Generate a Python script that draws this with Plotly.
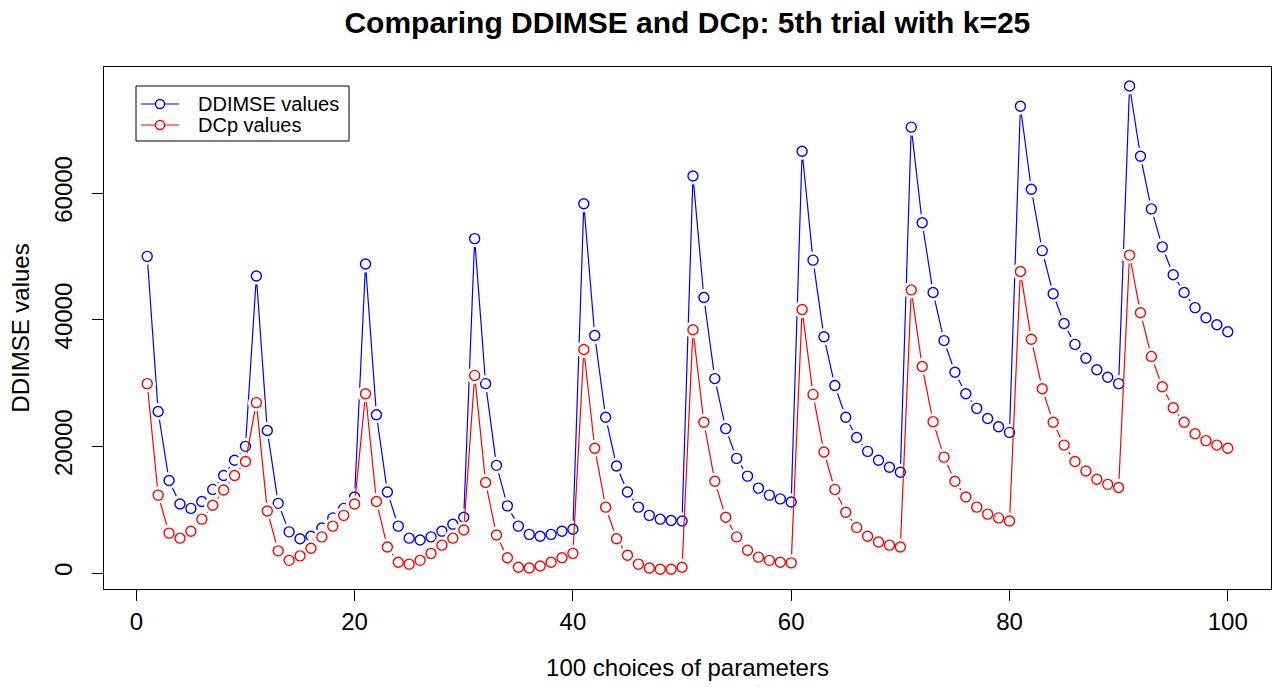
import plotly.graph_objects as go

x = list(range(1, 101))

ddimse = [
    50000, 25500, 14600, 10900, 10200, 11300, 13200, 15400, 17800, 20000,
    46900, 22500, 11000, 6500, 5400, 5800, 7100, 8700, 10200, 12000,
    48800, 25000, 12800, 7400, 5500, 5200, 5700, 6600, 7700, 8800,
    52800, 29900, 17000, 10600, 7400, 6100, 5800, 6100, 6600, 6900,
    58300, 37500, 24600, 16900, 12800, 10400, 9100, 8500, 8300, 8200,
    62700, 43500, 30700, 22800, 18100, 15300, 13400, 12300, 11700, 11200,
    66600, 49400, 37300, 29600, 24600, 21400, 19200, 17800, 16700, 15900,
    70400, 55300, 44300, 36700, 31700, 28300, 26000, 24400, 23100, 22200,
    73700, 60600, 50900, 44100, 39400, 36100, 33900, 32100, 30900, 29900,
    76900, 65800, 57500, 51500, 47100, 44300, 41900, 40300, 39200, 38100,
]

dcp = [
    29900, 12300, 6300, 5500, 6600, 8500, 10700, 13100, 15400, 17600,
    26900, 9800, 3500, 2000, 2700, 3900, 5700, 7400, 9100, 10900,
    28300, 11300, 4100, 1700, 1400, 2000, 3100, 4400, 5500, 6800,
    31200, 14300, 6000, 2400, 900, 800, 1100, 1700, 2400, 3100,
    35300, 19700, 10400, 5400, 2800, 1400, 800, 600, 600, 900,
    38400, 23800, 14500, 8800, 5700, 3600, 2500, 2000, 1700, 1600,
    41600, 28200, 19100, 13200, 9600, 7200, 5800, 4900, 4400, 4100,
    44700, 32600, 23900, 18300, 14500, 12000, 10400, 9300, 8700, 8200,
    47600, 36900, 29100, 23800, 20200, 17600, 16100, 14800, 14000, 13500,
    50200, 41100, 34200, 29400, 26100, 23800, 22000, 20900, 20200, 19700,
]

series_names = ["DDIMSE values", "DCp values"]
series_colors = ["blue", "red"]

x_ticks = [0, 20, 40, 60, 80, 100]
y_ticks = [0, 20000, 40000, 60000]

FONT = "Liberation Sans, Arial, sans-serif"

# plot-area geometry (pixels) used for the hand-drawn R-style legend
W, H = 1280, 687
ML, MR, MT, MB = 104, 9, 67, 98
PW, PH = W - ML - MR, H - MT - MB


def px(xp):
    return (xp - ML) / PW


def py(yp):
    return (H - MB - yp) / PH


fig = go.Figure()


def add_series(yvals, color, name):
    fig.add_trace(go.Scatter(x=x, y=yvals, mode="lines",
                             line=dict(color=color, width=1.2),
                             showlegend=False, hoverinfo="skip"))
    # white halo to imitate R type="b" gaps around points
    fig.add_trace(go.Scatter(x=x, y=yvals, mode="markers",
                             marker=dict(symbol="circle", size=17, color="white",
                                         line=dict(width=0)),
                             showlegend=False, hoverinfo="skip"))
    fig.add_trace(go.Scatter(x=x, y=yvals, mode="markers", name=name,
                             marker=dict(symbol="circle-open", size=10, color=color,
                                         line=dict(width=1.4, color=color)),
                             showlegend=False))


add_series(ddimse, series_colors[0], series_names[0])
add_series(dcp, series_colors[1], series_names[1])

# R-style legend box
shapes = [dict(type="rect", xref="paper", yref="paper",
               x0=px(136), x1=px(349), y0=py(141), y1=py(86),
               line=dict(color="black", width=1), fillcolor="white", layer="above")]
annotations = []
for i, (nm, col) in enumerate(zip(series_names, series_colors)):
    yy = 104 + 21 * i
    shapes.append(dict(type="line", xref="paper", yref="paper",
                       x0=px(141), x1=px(179), y0=py(yy), y1=py(yy),
                       line=dict(color=col, width=1.2), layer="above"))
    shapes.append(dict(type="circle", xref="paper", yref="paper",
                       xsizemode="pixel", ysizemode="pixel",
                       xanchor=px(160), yanchor=py(yy),
                       x0=-4.5, x1=4.5, y0=-4.5, y1=4.5,
                       line=dict(color=col, width=1.4), fillcolor="white",
                       layer="above"))
    annotations.append(dict(text=nm, xref="paper", yref="paper",
                            x=px(196), y=py(yy), xanchor="left", yanchor="middle",
                            showarrow=False,
                            font=dict(family=FONT, size=20, color="black")))

axis_common = dict(
    showline=True, linecolor="black", linewidth=1, mirror=True,
    ticks="outside", ticklen=11, tickwidth=1, tickcolor="black",
    showgrid=False, zeroline=False,
    tickfont=dict(family=FONT, size=24, color="black"),
)

fig.update_layout(
    width=W, height=H,
    margin=dict(l=ML, r=MR, t=MT, b=MB),
    paper_bgcolor="white", plot_bgcolor="white",
    font=dict(family=FONT, color="black"),
    showlegend=False,
    title=dict(text="<b>Comparing DDIMSE and DCp: 5th trial with k=25</b>",
               font=dict(family=FONT, size=30, color="black"),
               x=0.537, xanchor="center", y=1 - 22 / H, yanchor="middle",
               xref="container", yref="container"),
    xaxis=dict(range=[-2.96, 103.96], tickvals=x_ticks,
               ticktext=[str(v) for v in x_ticks],
               title=dict(text="100 choices of parameters",
                          font=dict(family=FONT, size=24, color="black"),
                          standoff=25),
               ticklabelstandoff=0,
               **axis_common),
    yaxis=dict(range=[-2526, 79900], tickvals=y_ticks,
               ticktext=[str(v) for v in y_ticks], tickangle=-90,
               title=dict(text="DDIMSE values",
                          font=dict(family=FONT, size=24, color="black"),
                          standoff=14),
               ticklabelstandoff=10,
               **axis_common),
    shapes=shapes,
    annotations=annotations,
)

fig.write_html("out.html")
